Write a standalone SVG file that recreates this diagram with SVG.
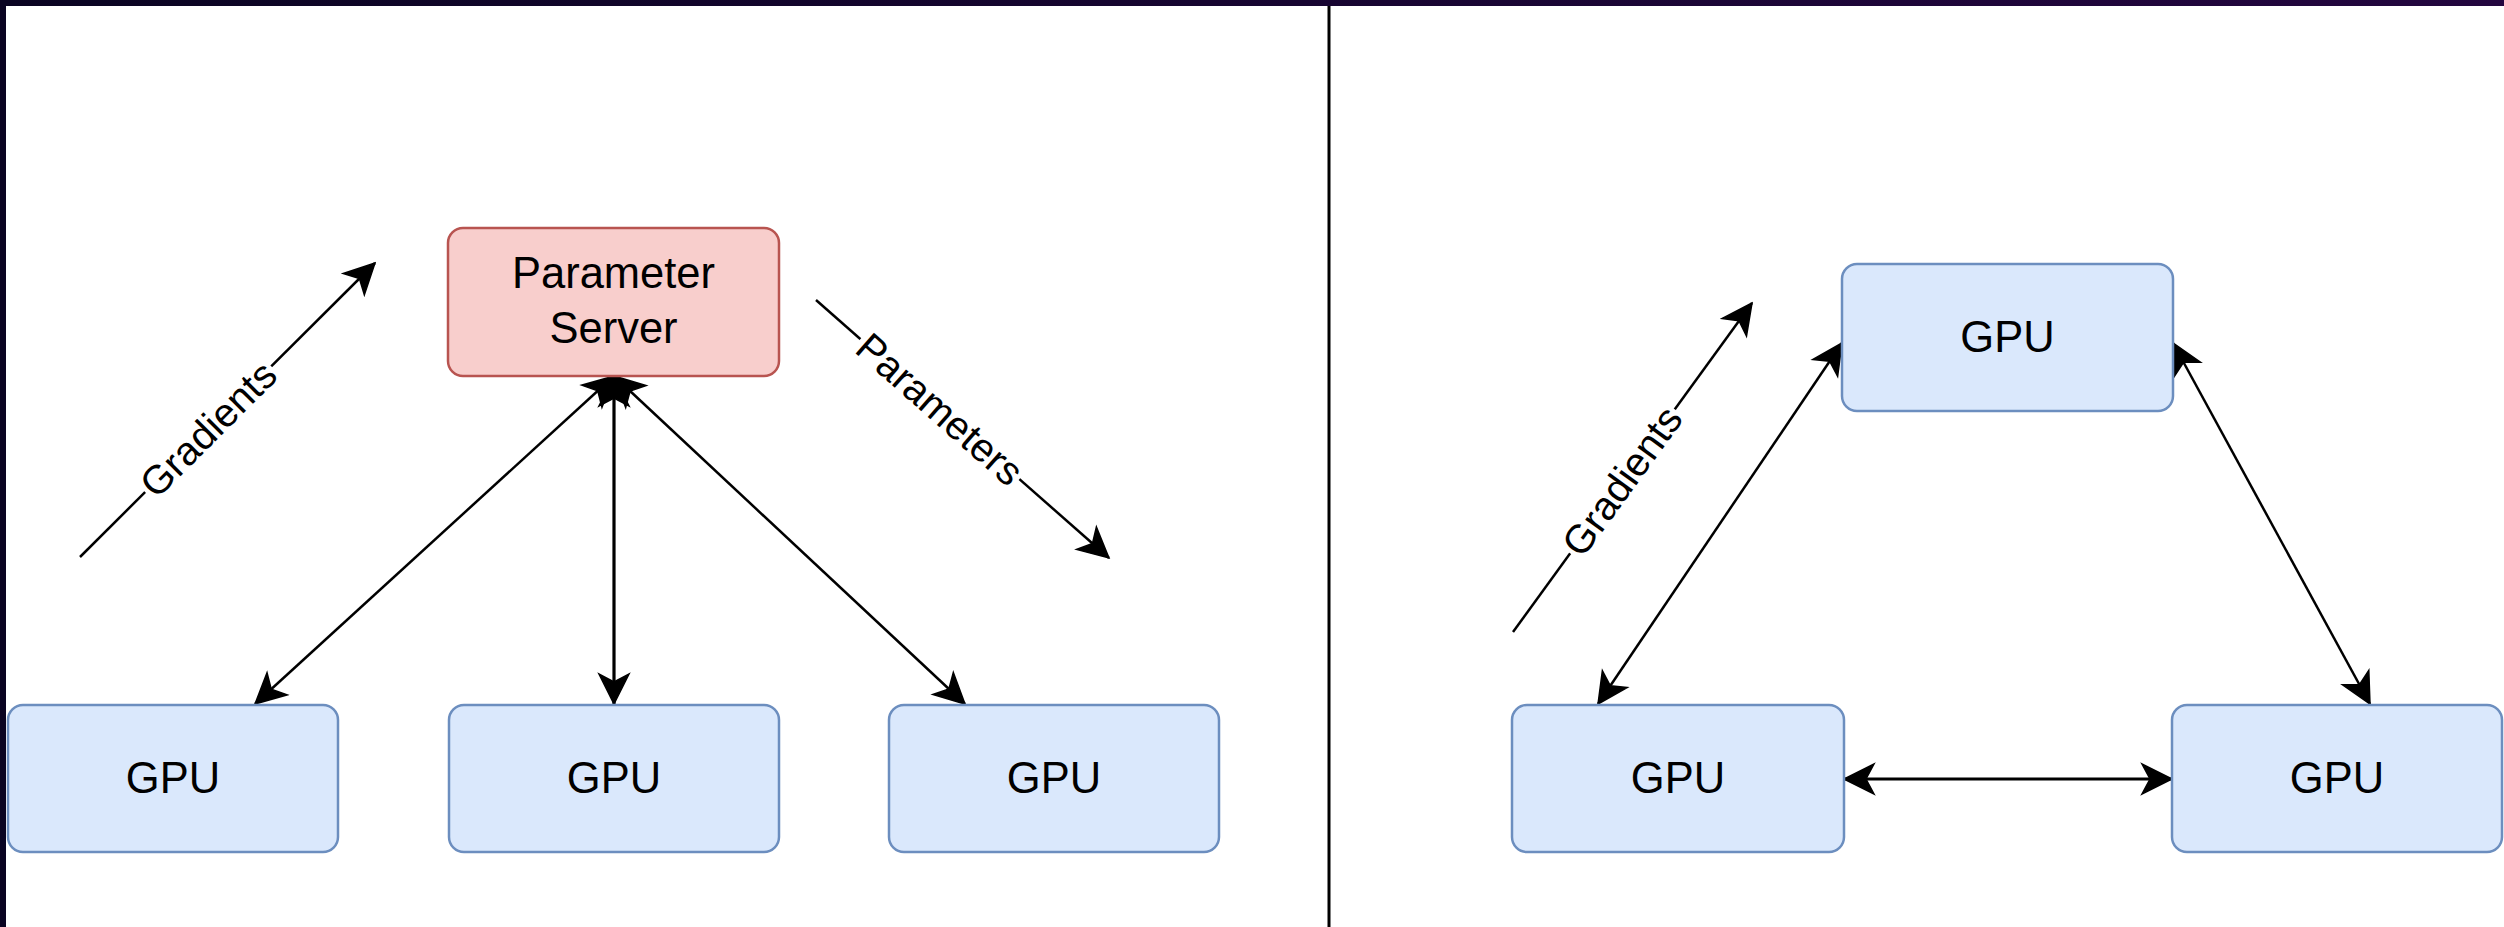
<svg xmlns="http://www.w3.org/2000/svg" width="2504" height="927" viewBox="0 0 2504 927">
  <style>
    .gpu { fill: #dae8fc; stroke: #6c8ebf; stroke-width: 2.5; }
    .ps { fill: #f8cecc; stroke: #b85450; stroke-width: 2.5; }
    .node-text { font-family: "Liberation Sans", Arial, sans-serif; font-size: 43.5px; fill: #000000; text-anchor: middle; }
    .edge { stroke: #000000; stroke-width: 2.5; fill: none; }
    .straight { stroke-width: 3.2; }
    .both { marker-start: url(#arrow); marker-end: url(#arrow); }
    .end { marker-end: url(#arrow); }
    .label { font-family: "Liberation Sans", Arial, sans-serif; font-size: 40px; fill: #000000; text-anchor: middle; }
    .label-bg { fill: #ffffff; }
  </style>
  <defs>
    <linearGradient id="frame" x1="0" y1="0" x2="1" y2="0">
      <stop offset="0" stop-color="#0a0422"/>
      <stop offset="1" stop-color="#23063f"/>
    </linearGradient>
    <marker id="arrow" viewBox="0 0 34 34" refX="32" refY="17" markerWidth="34" markerHeight="34" markerUnits="userSpaceOnUse" orient="auto-start-reverse">
      <path d="M 32 17 L 2 2 L 10 17 L 2 32 Z" fill="#000000" stroke="#000000" stroke-width="1.5" stroke-linejoin="miter"/>
    </marker>
  </defs>

  <!-- page background and dark window frame along the top and left -->
  <rect x="0" y="0" width="2504" height="927" fill="#ffffff"/>
  <rect x="0" y="0" width="2504" height="6" fill="url(#frame)"/>
  <rect x="0" y="0" width="6" height="927" fill="#0a0422"/>

  <!-- divider between the two layouts -->
  <line x1="1329" y1="6" x2="1329" y2="927" stroke="#000000" stroke-width="3"/>

  <g id="connectors">
    <!-- parameter server layout -->
    <line class="edge both" x1="614" y1="376" x2="255" y2="704"/>
    <line class="edge straight both" x1="614" y1="376" x2="614" y2="704"/>
    <line class="edge both" x1="614" y1="376" x2="965" y2="704"/>
    <line class="edge end" x1="80" y1="557" x2="375" y2="263"/>
    <line class="edge end" x1="816" y1="300" x2="1109" y2="558"/>
    <!-- ring layout -->
    <line class="edge both" x1="1842" y1="343" x2="1598" y2="704"/>
    <line class="edge both" x1="2173" y1="343" x2="2370" y2="704"/>
    <line class="edge straight both" x1="1844" y1="779" x2="2172" y2="779"/>
    <line class="edge end" x1="1513" y1="632" x2="1752" y2="303"/>

    <!-- edge labels -->
    <g transform="translate(208,429) rotate(-44.9)">
      <rect class="label-bg" x="-89" y="-20" width="178" height="40"/>
      <text class="label" x="0" y="14">Gradients</text>
    </g>
    <g transform="translate(940,409) rotate(41.4)">
      <rect class="label-bg" x="-106" y="-20" width="212" height="40"/>
      <text class="label" x="0" y="14">Parameters</text>
    </g>
    <g transform="translate(1622,481) rotate(-54)">
      <rect class="label-bg" x="-89" y="-20" width="178" height="40"/>
      <text class="label" x="0" y="14">Gradients</text>
    </g>
  </g>

  <g id="parameter-server">
    <rect class="ps" x="448" y="228" width="331" height="148" rx="15" ry="15"/>
    <text class="node-text" x="613.5" y="288">Parameter</text>
    <text class="node-text" x="613.5" y="343">Server</text>
  </g>
  <g id="gpu-ps-1">
    <rect class="gpu" x="8" y="705" width="330" height="147" rx="15" ry="15"/>
    <text class="node-text" x="173" y="793">GPU</text>
  </g>
  <g id="gpu-ps-2">
    <rect class="gpu" x="449" y="705" width="330" height="147" rx="15" ry="15"/>
    <text class="node-text" x="614" y="793">GPU</text>
  </g>
  <g id="gpu-ps-3">
    <rect class="gpu" x="889" y="705" width="330" height="147" rx="15" ry="15"/>
    <text class="node-text" x="1054" y="793">GPU</text>
  </g>

  <g id="gpu-ring-top">
    <rect class="gpu" x="1842" y="264" width="331" height="147" rx="15" ry="15"/>
    <text class="node-text" x="2007.5" y="352">GPU</text>
  </g>
  <g id="gpu-ring-left">
    <rect class="gpu" x="1512" y="705" width="332" height="147" rx="15" ry="15"/>
    <text class="node-text" x="1678" y="793">GPU</text>
  </g>
  <g id="gpu-ring-right">
    <rect class="gpu" x="2172" y="705" width="330" height="147" rx="15" ry="15"/>
    <text class="node-text" x="2337" y="793">GPU</text>
  </g>
</svg>
